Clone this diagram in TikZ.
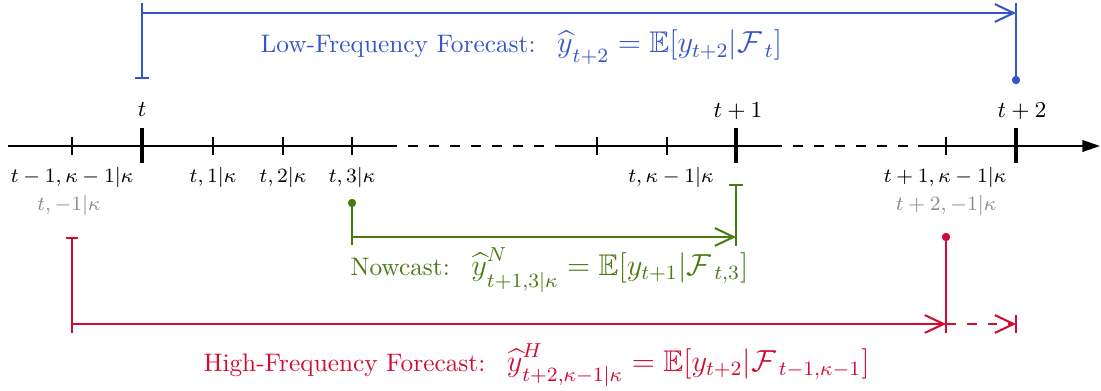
\documentclass[tikz,border=0pt]{standalone}
\usepackage{amsmath,amssymb}
\usetikzlibrary{arrows.meta}
\definecolor{lfblue}{RGB}{52,86,200}
\definecolor{ncgreen}{RGB}{74,122,18}
\definecolor{hfred}{RGB}{212,10,50}
\definecolor{lblgray}{RGB}{140,140,140}
\DeclareMathSizes{11.8}{11.8}{7.9}{6}
\newcommand{\mth}[1]{{\fontsize{11.8}{13}\selectfont$#1$}}
\newcommand{\yhatd}[1]{{\widehat{y}\vrule width 0pt height 0pt depth #1}}
\begin{document}
\begin{tikzpicture}[x=0.3947pt,y=-0.3947pt,
  axisline/.style={line width=0.8pt,black},
  axisdash/.style={line width=0.8pt,black,dash pattern=on 3.95pt off 4.35pt,dash phase=3.95pt},
  minortick/.style={line width=0.8pt,black},
  majortick/.style={line width=1.6pt,black},
  ticklabel/.style={font=\fontsize{8.1}{10}\selectfont,inner sep=0pt,anchor=base},
  graylabel/.style={ticklabel,text=lblgray},
  toplabel/.style={font=\fontsize{8.7}{10}\selectfont,inner sep=0pt,anchor=base},
  fclabel/.style={font=\fontsize{10}{12}\selectfont,inner sep=0pt,anchor=base west},
  cline/.style={line width=0.8pt},
  barb/.style={-{Straight Barb[length=7.4pt,width=7pt,line width=0.8pt]}},
  dotfill/.style={circle,inner sep=0pt,minimum size=3.3pt}
]
\useasboundingbox (0,0) rectangle (1101,391);

% ---- axis ----
\coordinate (a0) at (8,146);
\coordinate (a1) at (397,146);
\coordinate (a2) at (555,146);
\coordinate (a3) at (782,146);
\coordinate (a4) at (918,146);
\coordinate (aend) at (1100,146);
\draw[axisline] (a0) -- (a1);
\draw[axisdash] (a1) -- (a2);
\draw[axisline] (a2) -- (a3);
\draw[axisdash] (a3) -- (a4);
\draw[axisline,-{Triangle[length=7pt,width=4.6pt]}] (a4) -- (aend);

% ---- ticks ----
\foreach \n/\x in {tm/72,t1/213,t2/283,t3/352,tka/597,tkb/667,tkc/946}{
  \coordinate (\n u) at (\x,137);
  \coordinate (\n d) at (\x,155);
  \draw[minortick] (\n u) -- (\n d);
}
\foreach \n/\x in {T0/142,T1/736,T2/1016}{
  \coordinate (\n u) at (\x,128);
  \coordinate (\n d) at (\x,163.5);
  \draw[majortick] (\n u) -- (\n d);
}

% ---- labels above axis ----
\node[toplabel] (lT0) at (142,117) {$t$};
\node[toplabel] (lT1) at (738,118) {$t+1$};
\node[toplabel] (lT2) at (1022,118) {$t+2$};

% ---- labels below axis ----
\node[ticklabel] (ltm) at (72,183) {$t-1,\kappa-1|\kappa$};
\node[graylabel] (gtm) at (69,211) {$t,-1|\kappa$};
\node[ticklabel] (lt1) at (213,183) {$t,1|\kappa$};
\node[ticklabel] (lt2) at (283,183) {$t,2|\kappa$};
\node[ticklabel] (lt3) at (352,183) {$t,3|\kappa$};
\node[ticklabel] (ltk) at (671,183) {$t,\kappa-1|\kappa$};
\node[ticklabel] (ltkc) at (945,183) {$t+1,\kappa-1|\kappa$};
\node[graylabel] (gtkc) at (946,211) {$t+2,-1|\kappa$};

% ---- Low-frequency forecast (blue) ----
\coordinate (bLtop) at (142,3);
\coordinate (bLbot) at (142,79);
\coordinate (bHs) at (142,13);
\coordinate (bHe) at (1016,13);
\coordinate (bRtop) at (1016,3);
\node[dotfill,fill=lfblue] (bdot) at (1016,80) {};
\draw[cline,lfblue,-{Bar[width=5.2pt,line width=0.8pt]}] (bLtop) -- (bLbot);
\draw[cline,lfblue,barb] (bHs) -- (bHe);
\draw[cline,lfblue] (bRtop) -- (bdot.center);
\node[fclabel,text=lfblue] (lf) at (260,53)
  {Low-Frequency Forecast:\hspace{8.5pt}\mth{\yhatd{3.2pt}_{t+2}=\mathbb{E}[y_{t+2}|\mathcal{F}_{\;t}]}};

% ---- Nowcast (green) ----
\node[dotfill,fill=ncgreen] (gdot) at (352,203) {};
\coordinate (gLbot) at (352,245);
\coordinate (gHs) at (352,237);
\coordinate (gHe) at (736,237);
\coordinate (gRtop) at (736,184);
\coordinate (gRbot) at (736,246);
\draw[cline,ncgreen] (gdot.center) -- (gLbot);
\draw[cline,ncgreen,barb] (gHs) -- (gHe);
\draw[cline,ncgreen,-{Bar[width=5.5pt,line width=0.8pt]}] (gRbot) -- (gRtop);
\node[fclabel,text=ncgreen] (nc) at (350,275)
  {Nowcast:\hspace{8.5pt}\mth{\yhatd{4.4pt}^{N}_{t+1,3|\kappa}=\mathbb{E}[y_{t+1}|\mathcal{F}_{\;t,3}]}};

% ---- High-frequency forecast (red) ----
\coordinate (rLtop) at (72,237);
\coordinate (rLbot) at (72,333);
\coordinate (rHs) at (72,324);
\coordinate (rHe) at (946,324);
\node[dotfill,fill=hfred] (rdot) at (946,237) {};
\coordinate (rRbot) at (946,333);
\coordinate (rDe) at (1016,324);
\coordinate (rBt) at (1016,315);
\coordinate (rBb) at (1016,333);
\draw[cline,hfred,-{Bar[width=5pt,line width=0.8pt]}] (rLbot) -- (rLtop);
\draw[cline,hfred,barb] (rHs) -- (rHe);
\draw[cline,hfred] (rdot.center) -- (rRbot);
\draw[cline,hfred,barb,dash pattern=on 3.9pt off 4.3pt] (rHe) -- (rDe);
\draw[cline,hfred] (rBt) -- (rBb);
\node[fclabel,text=hfred] (hf) at (203,371)
  {High-Frequency Forecast:\hspace{8.5pt}\mth{\yhatd{3.6pt}^{H}_{t+2,\kappa-1|\kappa}=\mathbb{E}[y_{t+2}|\mathcal{F}_{\;t-1,\kappa-1}]}};
\end{tikzpicture}
\end{document}
